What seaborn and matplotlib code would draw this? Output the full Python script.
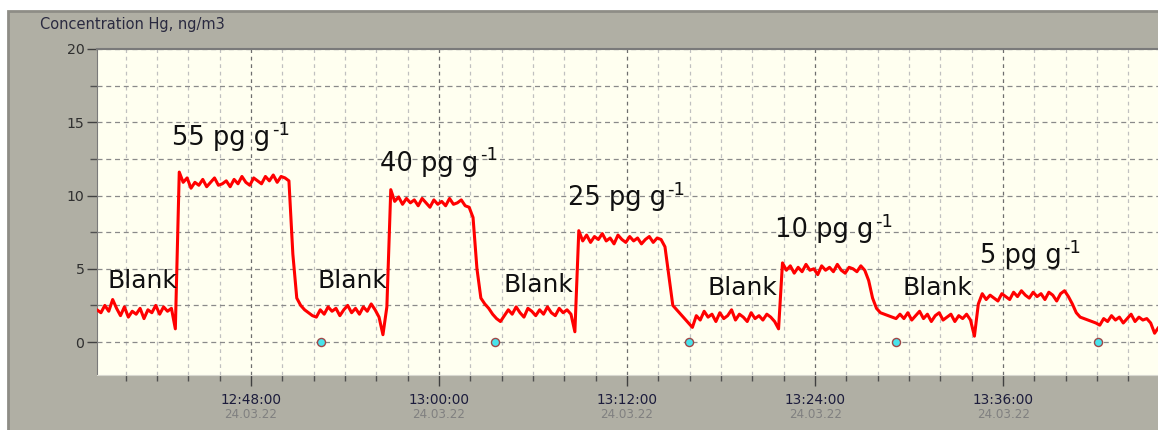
import pandas as pd
import seaborn as sb
import matplotlib.pyplot as plt
import matplotlib.dates as mdates
from matplotlib.patches import Rectangle
from matplotlib.ticker import MultipleLocator

# Hg concentration, one reading every 15 s starting 12:38:10
start_time = "2022-03-24 12:38:10"
hg_values = [
    # blank
    2.2, 2.0, 2.5, 2.1, 2.9, 2.3, 1.8, 2.4, 1.7, 2.1, 1.9, 2.3, 1.6, 2.2, 2.0, 2.5, 1.9, 2.4, 2.1, 2.3, 0.9,
    # 55 pg/g
    11.6, 10.9, 11.2, 10.5, 10.9, 10.7, 11.1, 10.6, 10.9, 11.2, 10.7, 10.8, 11.0, 10.6, 11.1, 10.8, 11.3, 10.9,
    10.7, 11.2, 11.0, 10.8, 11.3, 11.0, 11.4, 10.9, 11.3, 11.2, 11.0,
    6.0, 3.0, 2.5, 2.2, 2.0, 1.8, 1.7,
    # blank
    2.2, 1.9, 2.4, 2.1, 2.3, 1.8, 2.2, 2.5, 2.0, 2.3, 1.9, 2.4, 2.1, 2.6, 2.2, 1.7, 0.5, 2.4,
    # 40 pg/g
    10.4, 9.6, 9.9, 9.4, 9.8, 9.5, 9.7, 9.3, 9.8, 9.5, 9.2, 9.7, 9.4, 9.6, 9.3, 9.8, 9.4, 9.5, 9.7, 9.3, 9.2,
    8.5, 5.0, 3.0, 2.6, 2.3, 1.9, 1.6, 1.4,
    # blank
    1.8, 2.2, 1.9, 2.4, 2.0, 1.7, 2.3, 2.1, 1.8, 2.2, 1.9, 2.4, 2.0, 1.8, 2.3, 2.0, 2.2, 1.9, 0.7,
    # 25 pg/g
    7.6, 6.9, 7.3, 6.8, 7.2, 7.0, 7.4, 6.9, 7.1, 6.7, 7.3, 7.0, 6.8, 7.2, 6.9, 7.1, 6.7, 7.0, 7.2, 6.8, 7.1, 7.0,
    6.5, 4.5, 2.5, 2.2, 1.9, 1.6, 1.3, 1.0,
    # blank
    1.8, 1.5, 2.1, 1.7, 1.9, 1.4, 2.0, 1.6, 1.8, 2.2, 1.5, 1.9, 1.7, 1.4, 2.0, 1.6, 1.8, 1.5, 1.9, 1.7, 1.4, 0.9,
    # 10 pg/g
    5.4, 4.9, 5.2, 4.7, 5.1, 4.8, 5.3, 4.9, 5.0, 4.6, 5.2, 4.9, 5.1, 4.8, 5.3, 4.9, 4.7, 5.1, 5.0, 4.8, 5.2, 4.9,
    4.2, 3.0, 2.3, 2.0, 1.9, 1.8, 1.7, 1.6,
    # blank
    1.9, 1.6, 2.0, 1.5, 1.8, 2.1, 1.6, 1.9, 1.4, 1.8, 2.0, 1.5, 1.7, 1.9, 1.4, 1.8, 1.6, 1.9, 1.5, 0.4, 2.6,
    # 5 pg/g
    3.3, 2.9, 3.2, 3.0, 2.8, 3.3, 3.1, 2.9, 3.4, 3.1, 3.5, 3.2, 3.0, 3.4, 3.1, 3.3, 2.9, 3.4, 3.2, 2.8, 3.3, 3.5, 3.1,
    2.6, 2.0, 1.7, 1.6, 1.5, 1.4, 1.3, 1.15,
    # blank
    1.6, 1.4, 1.8, 1.5, 1.7, 1.3, 1.6, 1.9, 1.4, 1.7, 1.5, 1.6, 1.3, 0.6, 1.0,
]

marker_times = ["12:52:28", "13:03:34", "13:15:57", "13:29:10", "13:42:03"]

sample_labels = ["55 pg g", "40 pg g", "25 pg g", "10 pg g", "5 pg g"]
sample_label_times = ["12:42:58", "12:56:14", "13:08:14", "13:21:26", "13:34:31"]
sample_label_y = [13.45, 11.7, 9.35, 7.17, 5.4]

blank_label_times = ["12:38:49", "12:52:13", "13:04:05", "13:17:06", "13:29:33"]
blank_label_y = [3.7, 3.7, 3.4, 3.2, 3.2]

major_times = ["12:48:00", "13:00:00", "13:12:00", "13:24:00", "13:36:00"]
date_label = "24.03.22"


def to_dt(hms):
    return pd.Timestamp("2022-03-24 " + hms)


df = pd.DataFrame({
    "time": pd.date_range(start_time, periods=len(hg_values), freq="15s"),
    "hg": hg_values,
})
markers = pd.DataFrame({"time": [to_dt(t) for t in marker_times], "hg": [0.0] * len(marker_times)})

sb.set_style("white")
plt.rcParams["font.family"] = ["DejaVu Sans"]

fig = plt.figure(figsize=(11.58, 4.30), dpi=100)
fig.patch.set_facecolor("white")
fig.patches.append(Rectangle((8 / 1158, -0.05), 1.1, 1.05 - 11 / 430, transform=fig.transFigure,
                             facecolor="#b0afa4", edgecolor="#8e8d86", lw=2, zorder=-5))

ax = fig.add_axes([97 / 1158, 55 / 430, 1061 / 1158, 326 / 430])
ax.set_zorder(1)
ax.set_facecolor("#fffff0")

sb.lineplot(data=df, x="time", y="hg", color="#ff0000", linewidth=2.2, ax=ax, zorder=3)
sb.scatterplot(data=markers, x="time", y="hg", marker="o", s=34, color="#48e4ec",
               edgecolor="#a04848", linewidth=1, ax=ax, zorder=4)

ax.set_xlim(to_dt("12:38:10"), to_dt("13:45:53"))
ax.set_ylim(-2.25, 20)

ax.xaxis.set_major_locator(mdates.MinuteLocator(byminute=[0, 12, 24, 36, 48]))
ax.xaxis.set_minor_locator(mdates.MinuteLocator(byminute=range(0, 60, 2)))
ax.xaxis.set_major_formatter(mdates.DateFormatter("%H:%M:%S"))
ax.yaxis.set_major_locator(MultipleLocator(5))
ax.yaxis.set_minor_locator(MultipleLocator(2.5))

ax.grid(which="major", axis="x", color="#6e6e6e", linestyle=(0, (3, 3)), lw=0.9)
ax.grid(which="minor", axis="x", color="#c0c0c0", linestyle=(0, (3, 3)), lw=0.9)
ax.grid(which="both", axis="y", color="#8a8a8a", linestyle=(0, (4, 3)), lw=0.9)

ax.tick_params(axis="x", which="major", direction="out", length=8, width=1, color="#404040",
               labelsize=9.8, labelcolor="#1c1c3c", pad=5, bottom=True)
ax.tick_params(axis="x", which="minor", direction="out", length=4, width=1, color="#505050", bottom=True)
ax.tick_params(axis="y", which="major", direction="out", length=7, width=1, color="#404040",
               labelsize=10.2, labelcolor="#303030", pad=2, left=True)
ax.tick_params(axis="y", which="minor", direction="out", length=5, width=1, color="#505050", left=True)

for t in major_times:
    ax.text(to_dt(t), -0.12, date_label, transform=ax.get_xaxis_transform(),
            ha="center", va="center", fontsize=8.6, color="#808080")

for lab, t, y in zip(sample_labels, sample_label_times, sample_label_y):
    txt = ax.text(to_dt(t), y, lab, fontsize=18.5, ha="left", va="baseline", color="#111111", zorder=5)
    ax.annotate("-1", xy=(1, 1), xycoords=txt, xytext=(1, 3), textcoords="offset points",
                fontsize=13, ha="left", va="top", color="#111111", zorder=5)
for t, y in zip(blank_label_times, blank_label_y):
    ax.text(to_dt(t), y, "Blank", fontsize=18, ha="left", va="baseline", color="#111111", zorder=5)

ax.set_xlabel("")
ax.set_ylabel("")
ax.spines["right"].set_visible(False)
ax.spines["left"].set_color("#7a7a7a")
ax.spines["top"].set_color("#7a7a7a")
ax.spines["top"].set_linewidth(1.5)
ax.spines["bottom"].set_color("#d8d8d0")

fig.text(40 / 1158, 1 - 25 / 430, "Concentration Hg, ng/m3", ha="left", va="center",
         fontsize=10.5, color="#2a2a40")

plt.savefig("out.png", dpi=100)
